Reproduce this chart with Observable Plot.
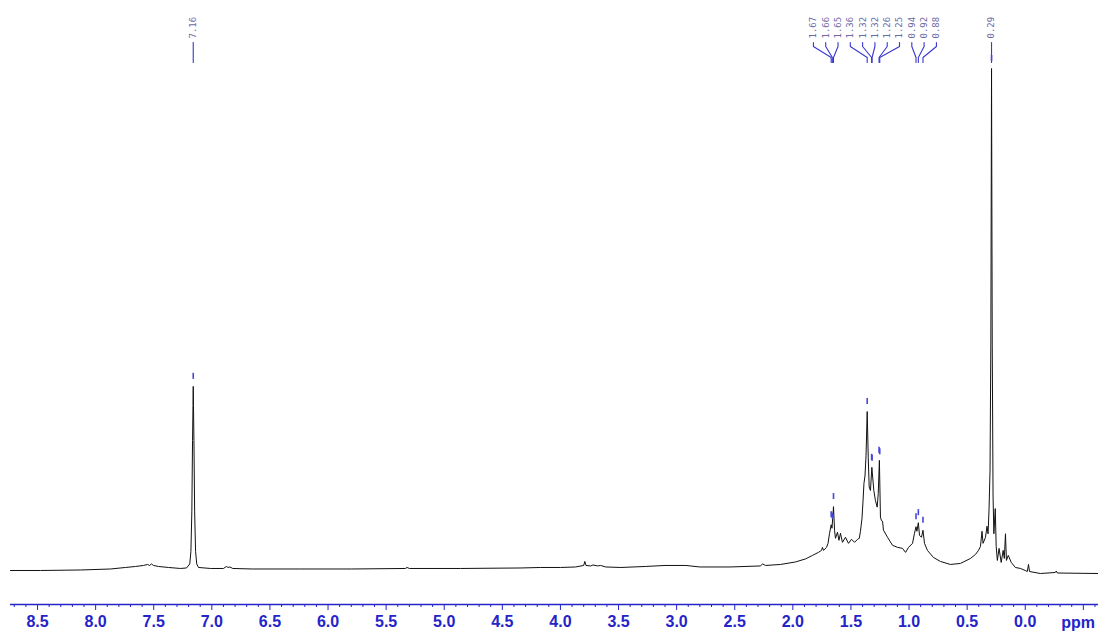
<!DOCTYPE html>
<html><head><meta charset="utf-8">
<script src="https://cdn.jsdelivr.net/npm/d3@7"></script>
<script src="https://cdn.jsdelivr.net/npm/@observablehq/plot@0.6"></script>
<style>html,body{margin:0;padding:0;background:#fff;overflow:hidden}</style>
</head><body><div id="chart"></div>
<script>
// ---- Spectrum (chemical shift in ppm, relative intensity in % of tallest peak) ----
const ppm = [8.733,8.474,8.130,7.872,7.743,7.657,7.588,7.554,7.536,7.519,7.502,7.459,7.373,7.270,7.218,
  7.190,7.180,7.172,7.166,7.162,7.160,7.158,7.154,7.148,7.140,7.130,7.115,
  7.010,6.900,6.875,6.860,6.845,6.820,6.650,6.240,5.800,5.335,5.320,5.300,4.860,4.340,4.170,4.000,
  3.870,3.800,3.790,3.780,3.740,3.720,3.680,3.655,3.610,3.480,3.270,3.100,2.920,2.800,2.540,2.280,2.260,2.235,
  2.106,1.977,1.891,1.831,1.780,1.753,1.745,1.736,1.710,1.697,1.684,1.670,1.663,1.650,1.641,1.633,1.616,1.603,
  1.590,1.573,1.547,1.521,1.495,1.469,1.443,1.428,1.418,1.405,1.396,1.388,1.379,1.370,1.360,1.351,1.343,1.332,
  1.320,1.303,1.289,1.274,1.265,1.255,1.246,1.237,1.228,1.220,1.185,1.142,1.099,1.056,1.030,1.004,0.970,0.953,
  0.940,0.932,0.920,0.910,0.893,0.880,0.867,0.842,0.790,0.730,0.644,0.558,0.471,0.428,0.402,0.385,0.372,0.363,
  0.342,0.329,0.320,0.312,0.303,0.296,0.290,0.284,0.277,0.270,0.258,0.250,0.240,0.225,0.207,0.190,0.180,0.170,
  0.162,0.146,0.120,0.085,0.040,0.000,-0.018,-0.028,-0.037,-0.130,-0.258,-0.267,-0.276,-0.630];
const intensity = [0.2,0.2,0.3,0.5,0.8,1.0,1.2,1.4,1.2,1.5,1.2,1.0,0.8,0.6,0.7,
  1.5,4,12,26,33,36.8,33,26,12,4,1.5,0.8,
  0.6,0.6,1.0,0.8,0.9,0.6,0.5,0.5,0.5,0.6,0.8,0.6,0.6,0.7,0.8,0.8,
  0.9,1.2,2.0,1.2,1.1,1.3,1.1,1.2,0.9,0.8,1.0,1.2,1.2,0.9,0.9,1.1,1.5,1.2,
  1.4,1.9,2.5,3.2,3.8,4.2,4.8,4.2,4.8,5.6,7.6,9.3,8.6,12.9,8.2,6.6,7.8,6.2,
  7.6,5.8,6.8,5.6,6.4,5.8,6.4,6.6,8.0,10.5,14,17.5,19,23,31.8,22.7,16.8,16.1,
  20.7,16.1,14.1,12.8,15.5,22.1,10.8,10.1,10.0,8.2,6.8,5.2,4.8,4.6,3.8,4.8,5.6,7.6,
  8.9,8.0,9.7,7.2,6.8,8.2,5.6,4.2,2.8,2.0,1.4,1.6,2.6,3.4,4.2,5.0,8.0,5.6,
  6.8,9.0,7.5,12,20,45,100,45,15,7.5,12.5,5,2.2,4.6,1.8,4.2,2.6,7.5,
  2.2,3.2,1.8,0.8,0.6,0.2,0,1.4,0,-0.4,-0.2,0.1,-0.3,-0.4];

// ---- Peak picking ----
const peakLabels = ["7.16","1.67","1.66","1.65","1.36","1.32","1.32","1.26","1.25","0.94","0.92","0.88","0.29"];
const peakPpm    = [7.160,1.670,1.660,1.650,1.360,1.322,1.318,1.258,1.252,0.940,0.920,0.880,0.290];
const peakHeight = [36.8,9.3,9.0,12.9,31.8,20.7,20.5,22.1,21.8,8.9,9.7,8.2,100];

// ---- Axis ----
const majorTicks = [8.5,8.0,7.5,7.0,6.5,6.0,5.5,5.0,4.5,4.0,3.5,3.0,2.5,2.0,1.5,1.0,0.5,0.0,-0.5];
const majorTickLabels = ["8.5","8.0","7.5","7.0","6.5","6.0","5.5","5.0","4.5","4.0","3.5","3.0","2.5","2.0","1.5","1.0","0.5","0.0",""];
const unitLabel = "ppm";
const unitLabelPpm = -0.455;

const W = 1098, H = 633;
const xOpts = {domain: [8.8187, -0.6305], range: [0, W]};
const yOpts = {domain: [0, 100], range: [571, 68]};
const xS = Plot.scale({x: xOpts});
const yS = Plot.scale({y: yOpts});
const yAt = px => yS.invert(px);

const spectrum = ppm.map((p, i) => ({ppm: p, I: intensity[i]}));
const peaks = peakPpm.map((p, i) => ({ppm: p, h: peakHeight[i], label: peakLabels[i]}));

// spread labels so they do not overlap (Bruker style)
const SP = 12.3;
const px = peakPpm.map(p => xS.apply(p));
let groups = px.map((x, i) => ({idx: [i], center: x}));
let changed = true;
while (changed) {
  changed = false;
  for (let g = 0; g < groups.length - 1; g++) {
    const a = groups[g], b = groups[g + 1];
    const aEnd = a.center + (a.idx.length - 1) / 2 * SP;
    const bStart = b.center - (b.idx.length - 1) / 2 * SP;
    if (bStart - aEnd < SP) {
      const idx = a.idx.concat(b.idx);
      groups.splice(g, 2, {idx, center: d3.mean(idx, i => px[i])});
      changed = true; break;
    }
  }
}
const labelPx = new Array(px.length);
for (const g of groups) g.idx.forEach((i, k) => labelPx[i] = g.center + (k - (g.idx.length - 1) / 2) * SP);
peaks.forEach((d, i) => d.labelPpm = xS.invert(labelPx[i]));

const conn = [];
peaks.forEach((d, i) => {
  conn.push({i, x: d.labelPpm, y: yAt(42)});
  conn.push({i, x: d.labelPpm, y: yAt(46)});
  conn.push({i, x: d.ppm, y: yAt(57)});
  conn.push({i, x: d.ppm, y: yAt(62)});
});

const minorTicks = d3.range(-6, 88).map(k => k / 10).filter(v => Math.abs(v * 2 - Math.round(v * 2)) > 1e-6);
const labelMap = new Map(majorTicks.map((t, i) => [t, majorTickLabels[i]]));
const BLUE = "#2424c8";
const AXIS_Y = 604;

const chart = Plot.plot({
  width: W, height: H,
  marginTop: 0, marginRight: 0, marginLeft: 0, marginBottom: H - AXIS_Y,
  x: {...xOpts, axis: null},
  y: {...yOpts, axis: null},
  style: {background: "#fff", overflow: "hidden"},
  marks: [
    Plot.line(conn, {x: "x", y: "y", z: "i", stroke: "#3636d0", strokeWidth: 1.1}),
    Plot.text(peaks, {x: "labelPpm", y: () => yAt(38), text: "label", rotate: -90, textAnchor: "start",
      lineAnchor: "middle", fontSize: 9, fontFamily: "DejaVu Sans Mono", fill: "#6a6aa6"}),
    Plot.line(spectrum, {x: "ppm", y: "I", stroke: "#111", strokeWidth: 1}),
    Plot.ruleX(peaks, {x: "ppm", y1: d => d.h + 1.4, y2: d => d.h + 2.6, stroke: "#4646dc", strokeWidth: 1.6}),
    Plot.ruleY([{y: yAt(AXIS_Y)}], {y: "y", x1: 8.733, x2: -0.6305, stroke: BLUE, strokeWidth: 1.3}),
    Plot.ruleX(minorTicks, {x: d => d, y1: yAt(AXIS_Y), y2: yAt(AXIS_Y + 3), stroke: BLUE, strokeWidth: 1}),
    Plot.axisX({ticks: majorTicks, tickSize: 6, tickPadding: 5, tickFormat: d => labelMap.get(d),
      stroke: BLUE, fill: BLUE, anchor: "bottom", label: null,
      fontSize: 16, fontWeight: "bold", fontFamily: "Liberation Sans, Arial, sans-serif"}),
    Plot.text([unitLabel], {x: unitLabelPpm, y: yAt(AXIS_Y + 18), text: d => d, fill: BLUE,
      fontSize: 16, fontWeight: "bold", fontFamily: "Liberation Sans, Arial, sans-serif", lineAnchor: "middle"})
  ]
});
document.getElementById("chart").appendChild(chart);
</script>
</body></html>
